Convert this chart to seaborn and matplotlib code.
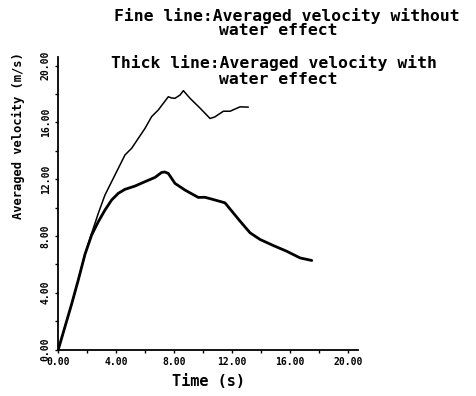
import matplotlib
matplotlib.use("Agg")
import matplotlib.pyplot as plt
import seaborn as sns
import pandas as pd
from matplotlib.ticker import MultipleLocator, FormatStrFormatter

# Fine line: averaged velocity without water effect
time_fine = [0.0, 0.46, 0.92, 1.38, 1.84, 2.3, 2.76, 3.22, 3.68, 4.14, 4.6, 5.06, 5.52,
             5.98, 6.44, 6.9, 7.25, 7.59, 7.8, 8.05, 8.4, 8.63, 9.09, 9.78, 10.47, 10.8,
             11.39, 11.85, 12.54, 13.11]
vel_fine = [0.0, 1.6, 3.2, 4.9, 6.7, 8.18, 9.59, 10.88, 11.82, 12.76, 13.7, 14.17, 14.87,
            15.57, 16.4, 16.87, 17.34, 17.8, 17.72, 17.69, 17.92, 18.23, 17.69, 17.0, 16.27,
            16.38, 16.78, 16.78, 17.09, 17.07]

# Thick line: averaged velocity with water effect
time_thick = [0.0, 0.46, 0.92, 1.38, 1.84, 2.3, 2.76, 3.22, 3.68, 4.14, 4.6, 5.29, 5.98,
              6.67, 7.13, 7.35, 7.59, 8.05, 8.74, 9.66, 10.12, 10.7, 11.5, 12.54, 13.23,
              13.92, 14.84, 15.76, 16.68, 17.49]
vel_thick = [0.0, 1.6, 3.2, 4.9, 6.7, 8.06, 9.0, 9.82, 10.53, 11.0, 11.28, 11.51, 11.82,
             12.12, 12.47, 12.5, 12.4, 11.7, 11.23, 10.71, 10.72, 10.56, 10.33, 9.04, 8.22,
             7.75, 7.32, 6.92, 6.45, 6.27]

xticks = [0, 4, 8, 12, 16, 20]
yticks = [0, 4, 8, 12, 16, 20]

sns.set_theme(style="ticks")
plt.rcParams['font.family'] = ['DejaVu Sans Mono', 'DejaVu Sans']
plt.rcParams['font.weight'] = 'bold'
plt.rcParams['text.color'] = 'black'
plt.rcParams['axes.labelcolor'] = 'black'

fig = plt.figure(figsize=(4.76, 3.96), dpi=100)
ax = fig.add_axes([58.3 / 476, (396 - 349.5) / 396, 300 / 476, 292.5 / 396])

df_fine = pd.DataFrame({"t": time_fine, "v": vel_fine})
df_thick = pd.DataFrame({"t": time_thick, "v": vel_thick})
sns.lineplot(data=df_fine, x="t", y="v", sort=False, color="black", linewidth=1.1, ax=ax)
sns.lineplot(data=df_thick, x="t", y="v", sort=False, color="black", linewidth=2.0, ax=ax)

ax.set_xlim(0, 20.7)
ax.set_ylim(0, 20.6)
ax.set_xticks(xticks)
ax.set_yticks(yticks)
ax.xaxis.set_minor_locator(MultipleLocator(2))
ax.yaxis.set_minor_locator(MultipleLocator(2))
ax.xaxis.set_major_formatter(FormatStrFormatter('%.2f'))
ax.yaxis.set_major_formatter(FormatStrFormatter('%.2f'))
for s in ["top", "right"]:
    ax.spines[s].set_visible(False)
for s in ["left", "bottom"]:
    ax.spines[s].set_linewidth(1.3)
    ax.spines[s].set_color("black")
ax.tick_params(axis='both', which='both', direction='out', length=2.5, width=1.0,
               colors='black', labelsize=7)
ax.tick_params(axis='x', pad=3)
ax.tick_params(axis='y', pad=3)
for lab in ax.get_yticklabels():
    lab.set_rotation(90)
    lab.set_va('center')
    lab.set_fontweight('bold')
for lab in ax.get_xticklabels():
    lab.set_fontweight('bold')

ax.set_xlabel("Time (s)", fontsize=11, fontweight='bold', labelpad=5, color='black')
ax.set_ylabel("Averaged velocity (m/s)", fontsize=8.7, fontweight='bold', color='black')
ax.yaxis.set_label_coords(-(58.3 - 25.5) / 300, (349.5 - 135.5) / 292.5)

tk = dict(fontsize=11.8, fontweight='bold', ha='center', va='baseline', color='black')
fig.text(287 / 476, 1 - 20.7 / 396, "Fine line:Averaged velocity without", **tk)
fig.text(278 / 476, 1 - 35 / 396, "water effect", **tk)
fig.text(273.5 / 476, 1 - 68.3 / 396, "Thick line:Averaged velocity with", **tk)
fig.text(278 / 476, 1 - 84.3 / 396, "water effect", **tk)

fig.savefig("out.png", dpi=100, facecolor="white")
